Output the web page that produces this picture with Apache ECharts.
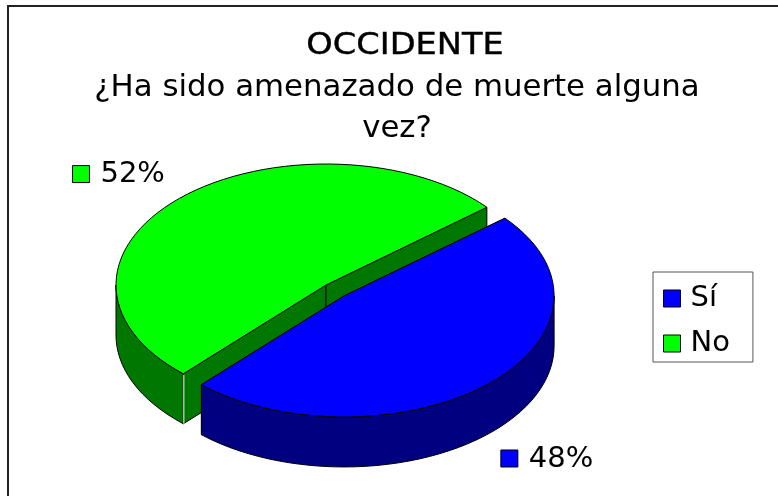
<!DOCTYPE html>
<html>
<head>
<meta charset="utf-8">
<style>
html, body { margin: 0; padding: 0; background: #fff; }
#mainChart { width: 778px; height: 496px; }
</style>
<script src="https://cdn.jsdelivr.net/npm/echarts@6/dist/echarts.min.js"></script>
</head>
<body>
<div id="mainChart"></div>
<script>
var categories = ['Sí', 'No'];
var values = [48, 52];
var explode = [0.125, 0];
var topColors = ['#0000ff', '#00ff00'];
var sideColors = ['#000080', '#007800'];
var labelPullX = [1.40, 1.433];
var labelPullY = [1.29, 1.26];

// pie geometry, tilted 3d look
var cx = 326, cy = 285, rx = 210, ry = 121, depth = 50;
var firstAngle = 50;
var fontName = '"DejaVu Sans", Verdana, sans-serif';

var total = values.reduce(function (a, b) { return a + b; }, 0);

function sliceAngles(idx) {
    var start = firstAngle;
    for (var i = 0; i < idx; i++) start += values[i] / total * 360;
    return [start, start + values[idx] / total * 360];
}

// angle is clockwise from the top, in degrees
function rim(center, angle, dy) {
    var r = angle * Math.PI / 180;
    return [center[0] + Math.sin(r) * rx, center[1] - Math.cos(r) * ry + (dy || 0)];
}

function arcPoints(center, a0, a1, dy) {
    var pts = [];
    for (var a = a0; a < a1; a += 3) pts.push(rim(center, a, dy));
    pts.push(rim(center, a1, dy));
    return pts;
}

function renderSlice(params, api) {
    var idx = params.seriesIndex;
    var angles = sliceAngles(idx);
    var a0 = angles[0], a1 = angles[1];
    var mid = (a0 + a1) / 2;
    var midRad = mid * Math.PI / 180;
    var center = [
        cx + Math.sin(midRad) * rx * explode[idx],
        cy - Math.cos(midRad) * ry * explode[idx]
    ];
    var children = [];

    function poly(points, fill) {
        children.push({
            type: 'polygon',
            shape: { points: points },
            style: { fill: fill, stroke: '#000', lineWidth: 1 }
        });
    }

    // cut faces
    [a0, a1].forEach(function (a) {
        var p = rim(center, a);
        poly([center, p, [p[0], p[1] + depth], [center[0], center[1] + depth]], sideColors[idx]);
    });

    // outer wall, front half of the ellipse only
    var from = Math.max(a0, 90), to = Math.min(a1, 270);
    if (to > from) {
        var upper = arcPoints(center, from, to, 0);
        var lower = arcPoints(center, from, to, depth).reverse();
        poly(upper.concat(lower), sideColors[idx]);
    }

    // top
    poly([center].concat(arcPoints(center, a0, a1, 0)), topColors[idx]);

    // the little white seam on the green wall
    if (a0 > 90 && a0 < 270) {
        var s = rim(center, a0);
        children.push({
            type: 'line',
            shape: { x1: s[0] + 0.5, y1: s[1] + 1, x2: s[0] + 0.5, y2: s[1] + depth },
            style: { stroke: '#fff', lineWidth: 1 }
        });
    }

    // percent label with its key
    var sinM = Math.sin(midRad), cosM = Math.cos(midRad);
    var lx = center[0] + sinM * rx * labelPullX[idx];
    var ly = center[1] - cosM * ry * labelPullY[idx] + (cosM < 0 ? depth : 0);
    children.push({
        type: 'rect',
        shape: { x: lx - 46, y: ly - 9, width: 17, height: 17 },
        style: { fill: topColors[idx], stroke: '#000', lineWidth: 1 }
    });
    children.push({
        type: 'text',
        style: {
            x: lx - 18, y: ly,
            text: api.value(0) + '%',
            fill: '#000',
            font: '29px ' + fontName,
            verticalAlign: 'middle',
            align: 'left'
        }
    });

    return { type: 'group', children: children };
}

var myChart = echarts.init(document.getElementById('mainChart'), null, { renderer: 'canvas' });

myChart.setOption({
    animation: false,
    backgroundColor: '#fff',
    title: {
        text: '¿Ha sido amenazado de muerte alguna\nvez?',
        left: 392,
        top: 62.5,
        textAlign: 'center',
        textStyle: {
            color: '#000',
            fontFamily: fontName,
            fontSize: 30.8,
            fontWeight: 'normal',
            lineHeight: 41
        }
    },
    legend: {
        orient: 'vertical',
        left: 653,
        top: 272,
        data: categories,
        icon: 'rect',
        itemWidth: 17,
        itemHeight: 17,
        itemGap: 16,
        padding: [12, 23, 4, 10],
        borderColor: '#555',
        borderWidth: 1,
        selectedMode: false,
        itemStyle: { borderColor: '#000', borderWidth: 1 },
        textStyle: { color: '#000', fontFamily: fontName, fontSize: 29, padding: [0, 0, 0, 5] }
    },
    graphic: [{
        type: 'polyline',
        shape: { points: [[8, 496], [8, 6], [778, 6]] },
        style: { fill: 'none', stroke: '#222', lineWidth: 2 },
        silent: true
    }, {
        // heading is wider than the plain font, so stretch it a bit
        type: 'text',
        x: 405,
        y: 46,
        scaleX: 1.12,
        silent: true,
        style: {
            text: 'OCCIDENTE',
            fill: '#000',
            stroke: '#000',
            lineWidth: 0.4,
            font: '30px ' + fontName,
            textAlign: 'center',
            textVerticalAlign: 'middle'
        }
    }],
    series: categories.map(function (name, i) {
        return {
            name: name,
            type: 'custom',
            coordinateSystem: 'none',
            renderItem: renderSlice,
            itemStyle: { color: topColors[i] },
            z: i === 0 ? 3 : 2,
            data: [values[i]]
        };
    })
});
</script>
</body>
</html>
